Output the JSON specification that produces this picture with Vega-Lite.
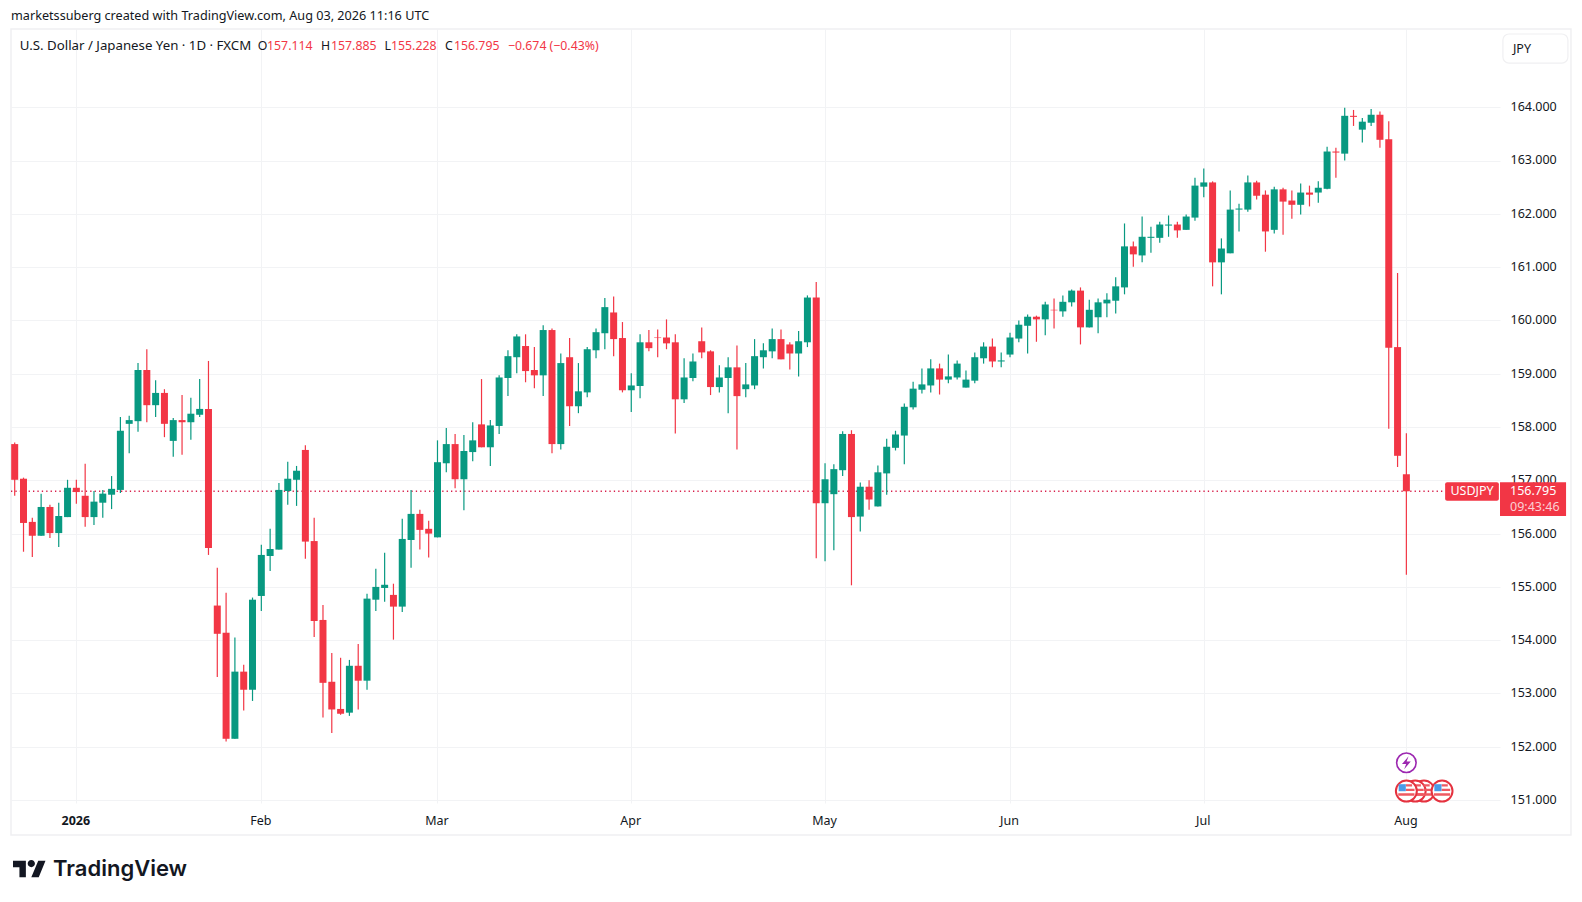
{
"$schema":"https://vega.github.io/schema/vega-lite/v6.json",
"autosize":"none",
"width":1489,"height":774,
"padding":{"left":11,"top":29,"right":82,"bottom":99},
"background":"#ffffff",
"config":{"view":{"stroke":null},"font":"Noto Sans"},
"datasets":{
"ohlc":[
{"i":0,"o":157.68,"h":157.71,"l":156.71,"c":157.01},
{"i":1,"o":157.03,"h":157.05,"l":155.66,"c":156.2},
{"i":2,"o":156.22,"h":156.3,"l":155.56,"c":155.96},
{"i":3,"o":155.96,"h":156.75,"l":155.96,"c":156.5},
{"i":4,"o":156.5,"h":156.54,"l":155.92,"c":156.01},
{"i":5,"o":156.01,"h":156.58,"l":155.75,"c":156.33},
{"i":6,"o":156.31,"h":157.01,"l":156.31,"c":156.86},
{"i":7,"o":156.86,"h":157.01,"l":156.56,"c":156.78},
{"i":8,"o":156.71,"h":157.31,"l":156.13,"c":156.31},
{"i":9,"o":156.31,"h":156.8,"l":156.16,"c":156.6},
{"i":10,"o":156.58,"h":156.82,"l":156.3,"c":156.75},
{"i":11,"o":156.73,"h":157.08,"l":156.46,"c":156.84},
{"i":12,"o":156.82,"h":158.19,"l":156.76,"c":157.93},
{"i":13,"o":158.06,"h":158.21,"l":157.51,"c":158.13},
{"i":14,"o":158.11,"h":159.2,"l":157.91,"c":159.07},
{"i":15,"o":159.07,"h":159.46,"l":158.09,"c":158.41},
{"i":16,"o":158.41,"h":158.88,"l":158.19,"c":158.64},
{"i":17,"o":158.64,"h":158.71,"l":157.81,"c":158.06},
{"i":18,"o":157.74,"h":158.17,"l":157.44,"c":158.13},
{"i":19,"o":158.13,"h":158.6,"l":157.48,"c":158.09},
{"i":20,"o":158.09,"h":158.55,"l":157.76,"c":158.25},
{"i":21,"o":158.23,"h":158.9,"l":158.19,"c":158.34},
{"i":22,"o":158.34,"h":159.24,"l":155.6,"c":155.73},
{"i":23,"o":154.65,"h":155.36,"l":153.31,"c":154.12},
{"i":24,"o":154.14,"h":154.89,"l":152.1,"c":152.15},
{"i":25,"o":152.15,"h":154.05,"l":152.15,"c":153.41},
{"i":26,"o":153.41,"h":153.54,"l":152.68,"c":153.07},
{"i":27,"o":153.07,"h":154.8,"l":152.86,"c":154.76},
{"i":28,"o":154.83,"h":155.79,"l":154.55,"c":155.6},
{"i":29,"o":155.58,"h":156.09,"l":155.3,"c":155.71},
{"i":30,"o":155.7,"h":156.95,"l":155.7,"c":156.82},
{"i":31,"o":156.8,"h":157.35,"l":156.54,"c":157.03},
{"i":32,"o":157.01,"h":157.27,"l":156.52,"c":157.18},
{"i":33,"o":157.57,"h":157.66,"l":155.53,"c":155.85},
{"i":34,"o":155.86,"h":156.3,"l":154.06,"c":154.36},
{"i":35,"o":154.38,"h":154.66,"l":152.55,"c":153.2},
{"i":36,"o":153.22,"h":153.76,"l":152.26,"c":152.7},
{"i":37,"o":152.71,"h":153.67,"l":152.6,"c":152.62},
{"i":38,"o":152.64,"h":153.63,"l":152.58,"c":153.52},
{"i":39,"o":153.52,"h":153.93,"l":152.7,"c":153.24},
{"i":40,"o":153.24,"h":154.87,"l":153.07,"c":154.78},
{"i":41,"o":154.76,"h":155.34,"l":154.55,"c":155},
{"i":42,"o":154.98,"h":155.64,"l":154.72,"c":155.04},
{"i":43,"o":154.85,"h":155.06,"l":154.01,"c":154.63},
{"i":44,"o":154.63,"h":156.28,"l":154.53,"c":155.9},
{"i":45,"o":155.88,"h":156.82,"l":155.36,"c":156.37},
{"i":46,"o":156.37,"h":156.45,"l":155.7,"c":156.07},
{"i":47,"o":156.09,"h":156.24,"l":155.55,"c":156},
{"i":48,"o":155.93,"h":157.75,"l":155.93,"c":157.34},
{"i":49,"o":157.32,"h":157.98,"l":157.15,"c":157.68},
{"i":50,"o":157.68,"h":157.87,"l":156.85,"c":157.02},
{"i":51,"o":157.02,"h":157.85,"l":156.44,"c":157.55},
{"i":52,"o":157.53,"h":158.09,"l":157.36,"c":157.75},
{"i":53,"o":158.05,"h":158.9,"l":157.62,"c":157.62},
{"i":54,"o":157.62,"h":158.13,"l":157.27,"c":158.03},
{"i":55,"o":158.02,"h":158.97,"l":157.87,"c":158.93},
{"i":56,"o":158.92,"h":159.44,"l":158.58,"c":159.33},
{"i":57,"o":159.31,"h":159.74,"l":159.01,"c":159.7},
{"i":58,"o":159.52,"h":159.74,"l":158.84,"c":159.05},
{"i":59,"o":159.07,"h":159.5,"l":158.73,"c":158.97},
{"i":60,"o":158.97,"h":159.91,"l":158.58,"c":159.82},
{"i":61,"o":159.82,"h":159.85,"l":157.51,"c":157.68},
{"i":62,"o":157.68,"h":159.38,"l":157.58,"c":159.2},
{"i":63,"o":159.31,"h":159.67,"l":158.02,"c":158.39},
{"i":64,"o":158.39,"h":159.2,"l":158.26,"c":158.67},
{"i":65,"o":158.65,"h":159.5,"l":158.56,"c":159.46},
{"i":66,"o":159.44,"h":159.85,"l":159.29,"c":159.78},
{"i":67,"o":159.76,"h":160.42,"l":159.46,"c":160.25},
{"i":68,"o":160.15,"h":160.45,"l":159.33,"c":159.65},
{"i":69,"o":159.67,"h":159.97,"l":158.65,"c":158.69},
{"i":70,"o":158.69,"h":159.01,"l":158.28,"c":158.78},
{"i":71,"o":158.77,"h":159.74,"l":158.54,"c":159.59},
{"i":72,"o":159.59,"h":159.82,"l":159.42,"c":159.48},
{"i":73,"o":159.68,"h":159.83,"l":159.31,"c":159.67},
{"i":74,"o":159.68,"h":160.02,"l":159.46,"c":159.57},
{"i":75,"o":159.59,"h":159.74,"l":157.88,"c":158.52},
{"i":76,"o":158.52,"h":159.29,"l":158.45,"c":158.93},
{"i":77,"o":158.92,"h":159.38,"l":158.86,"c":159.23},
{"i":78,"o":159.61,"h":159.87,"l":159.29,"c":159.4},
{"i":79,"o":159.42,"h":159.44,"l":158.6,"c":158.75},
{"i":80,"o":158.75,"h":159.16,"l":158.65,"c":158.93},
{"i":81,"o":158.92,"h":159.31,"l":158.26,"c":159.12},
{"i":82,"o":159.12,"h":159.53,"l":157.58,"c":158.58},
{"i":83,"o":158.71,"h":159.2,"l":158.56,"c":158.8},
{"i":84,"o":158.78,"h":159.65,"l":158.71,"c":159.33},
{"i":85,"o":159.31,"h":159.57,"l":159.1,"c":159.44},
{"i":86,"o":159.42,"h":159.85,"l":159.29,"c":159.65},
{"i":87,"o":159.65,"h":159.83,"l":159.27,"c":159.27},
{"i":88,"o":159.55,"h":159.59,"l":159.08,"c":159.38},
{"i":89,"o":159.38,"h":159.8,"l":158.95,"c":159.61},
{"i":90,"o":159.59,"h":160.47,"l":159.5,"c":160.43},
{"i":91,"o":160.43,"h":160.72,"l":155.54,"c":156.57},
{"i":92,"o":156.57,"h":157.32,"l":155.48,"c":157.02},
{"i":93,"o":156.74,"h":157.3,"l":155.69,"c":157.21},
{"i":94,"o":157.19,"h":157.92,"l":157.08,"c":157.87},
{"i":95,"o":157.87,"h":157.94,"l":155.03,"c":156.31},
{"i":96,"o":156.32,"h":156.96,"l":156.04,"c":156.88},
{"i":97,"o":156.88,"h":157,"l":156.45,"c":156.64},
{"i":98,"o":156.51,"h":157.28,"l":156.51,"c":157.15},
{"i":99,"o":157.13,"h":157.78,"l":156.73,"c":157.63},
{"i":100,"o":157.61,"h":157.93,"l":157.56,"c":157.86},
{"i":101,"o":157.84,"h":158.44,"l":157.3,"c":158.38},
{"i":102,"o":158.37,"h":158.85,"l":158.33,"c":158.72},
{"i":103,"o":158.7,"h":159.1,"l":158.63,"c":158.8},
{"i":104,"o":158.78,"h":159.27,"l":158.65,"c":159.1},
{"i":105,"o":159.1,"h":159.19,"l":158.61,"c":158.89},
{"i":106,"o":158.89,"h":159.36,"l":158.82,"c":158.95},
{"i":107,"o":158.93,"h":159.25,"l":158.89,"c":159.19},
{"i":108,"o":158.74,"h":159.06,"l":158.74,"c":158.89},
{"i":109,"o":158.87,"h":159.4,"l":158.82,"c":159.31},
{"i":110,"o":159.29,"h":159.59,"l":159.19,"c":159.51},
{"i":111,"o":159.51,"h":159.66,"l":159.12,"c":159.23},
{"i":112,"o":159.23,"h":159.4,"l":159.12,"c":159.25},
{"i":113,"o":159.36,"h":159.77,"l":159.31,"c":159.68},
{"i":114,"o":159.66,"h":160,"l":159.59,"c":159.92},
{"i":115,"o":159.9,"h":160.11,"l":159.38,"c":160.07},
{"i":116,"o":160.07,"h":160.09,"l":159.6,"c":160.02},
{"i":117,"o":160.02,"h":160.35,"l":159.72,"c":160.3},
{"i":118,"o":160.2,"h":160.41,"l":159.85,"c":160.19},
{"i":119,"o":160.17,"h":160.47,"l":160.07,"c":160.35},
{"i":120,"o":160.34,"h":160.58,"l":160.26,"c":160.56},
{"i":121,"o":160.56,"h":160.62,"l":159.55,"c":159.87},
{"i":122,"o":159.87,"h":160.39,"l":159.87,"c":160.2},
{"i":123,"o":160.06,"h":160.41,"l":159.76,"c":160.34},
{"i":124,"o":160.32,"h":160.51,"l":160.06,"c":160.39},
{"i":125,"o":160.37,"h":160.81,"l":160.13,"c":160.64},
{"i":126,"o":160.62,"h":161.82,"l":160.49,"c":161.39},
{"i":127,"o":161.39,"h":161.48,"l":161.01,"c":161.24},
{"i":128,"o":161.22,"h":161.95,"l":161.09,"c":161.57},
{"i":129,"o":161.55,"h":161.76,"l":161.27,"c":161.57},
{"i":130,"o":161.55,"h":161.85,"l":161.46,"c":161.8},
{"i":131,"o":161.78,"h":161.97,"l":161.57,"c":161.8},
{"i":132,"o":161.8,"h":161.85,"l":161.55,"c":161.69},
{"i":133,"o":161.7,"h":161.99,"l":161.7,"c":161.95},
{"i":134,"o":161.93,"h":162.68,"l":161.87,"c":162.53},
{"i":135,"o":162.51,"h":162.85,"l":162.31,"c":162.59},
{"i":136,"o":162.59,"h":162.61,"l":160.64,"c":161.09},
{"i":137,"o":161.09,"h":161.54,"l":160.49,"c":161.35},
{"i":138,"o":161.26,"h":162.44,"l":161.26,"c":162.08},
{"i":139,"o":162.08,"h":162.19,"l":161.67,"c":162.1},
{"i":140,"o":162.08,"h":162.72,"l":162.04,"c":162.59},
{"i":141,"o":162.59,"h":162.62,"l":162.27,"c":162.34},
{"i":142,"o":162.36,"h":162.44,"l":161.29,"c":161.67},
{"i":143,"o":161.7,"h":162.51,"l":161.63,"c":162.46},
{"i":144,"o":162.46,"h":162.49,"l":161.61,"c":162.23},
{"i":145,"o":162.25,"h":162.44,"l":161.91,"c":162.17},
{"i":146,"o":162.17,"h":162.57,"l":161.99,"c":162.4},
{"i":147,"o":162.4,"h":162.53,"l":162.14,"c":162.36},
{"i":148,"o":162.4,"h":162.61,"l":162.21,"c":162.49},
{"i":149,"o":162.47,"h":163.26,"l":162.46,"c":163.17},
{"i":150,"o":163.17,"h":163.24,"l":162.68,"c":163.15},
{"i":151,"o":163.13,"h":163.99,"l":163,"c":163.84},
{"i":152,"o":163.84,"h":163.95,"l":163.65,"c":163.82},
{"i":153,"o":163.58,"h":163.8,"l":163.34,"c":163.73},
{"i":154,"o":163.71,"h":163.97,"l":163.65,"c":163.86},
{"i":155,"o":163.86,"h":163.92,"l":163.24,"c":163.39},
{"i":156,"o":163.4,"h":163.74,"l":157.97,"c":159.49},
{"i":157,"o":159.5,"h":160.89,"l":157.25,"c":157.46},
{"i":158,"o":157.114,"h":157.885,"l":155.228,"c":156.795}
],
"flagsBack":[{"i":160},{"i":159}],
"flagsFront":[{"i":162.05},{"i":158}]
},
"layer":[
{"data":{"values":[{}]},"mark":{"type":"rect","fillOpacity":0,"stroke":"#f0f0f2","strokeWidth":1.5},
 "encoding":{"x":{"datum":-0.42,"type":"quantitative","axis":{"title":null}},"x2":{"datum":176.69},"y":{"datum":165.469,"type":"quantitative","axis":{"title":null}},"y2":{"datum":150.345}}},
{"data":{"values":[{}]},"mark":{"type":"rule","color":"#d81e4a","strokeWidth":1.3,"strokeDash":[1.3,3.1]},
 "encoding":{"x":{"datum":-0.42,"type":"quantitative","axis":{"title":null}},"x2":{"datum":162.4},"y":{"datum":156.795,"type":"quantitative","axis":{"title":null}}}},
{"data":{"name":"ohlc"},"mark":{"type":"rule","strokeWidth":1.2},
 "encoding":{
  "x":{"field":"i","type":"quantitative","scale":{"domain":[-0.42,168.63],"nice":false,"zero":false,"padding":0},
   "axis":{"title":null,"values":[7,28,48,70,92,113,135,158],"labelExpr":"{'7':'2026','28':'Feb','48':'Mar','70':'Apr','92':'May','113':'Jun','135':'Jul','158':'Aug'}[datum.value]","domain":false,"ticks":false,"grid":true,"gridColor":"#f2f3f5","gridWidth":1,"labelFontSize":12.5,"labelColor":"#131722","labelPadding":11,"labelOffset":-1,"labelFlush":false,"labelBound":false,"labelAngle":0,"labelFontWeight":{"condition":{"test":"datum.value === 7","value":"bold"},"value":"normal"}}},
  "y":{"field":"l","type":"quantitative","scale":{"domain":[150.945,165.469],"nice":false,"zero":false},
   "axis":{"orient":"right","title":null,"values":[151,152,153,154,155,156,157,158,159,160,161,162,163,164],"format":".3f","domain":false,"ticks":false,"grid":true,"gridColor":"#f2f3f5","gridWidth":1,"labelFontSize":12.5,"labelColor":"#131722","labelPadding":10,"labelOffset":-0.6,"labelFlush":false,"labelBound":false}},
  "y2":{"field":"h"},
  "color":{"condition":{"test":"datum.c >= datum.o","value":"#089981"},"value":"#f23645"}}},
{"data":{"name":"ohlc"},"mark":{"type":"bar","size":7,"orient":"vertical","minBandSize":1.2},
 "encoding":{"x":{"field":"i","type":"quantitative","axis":{"title":null}},"y":{"field":"o","type":"quantitative","axis":{"title":null}},"y2":{"field":"c"},
  "color":{"condition":{"test":"datum.c >= datum.o","value":"#089981"},"value":"#f23645"}}},
{"data":{"values":[{}]},"mark":{"type":"rect","fill":"#f23645","cornerRadius":2},
 "encoding":{"x":{"datum":162.4,"type":"quantitative","axis":{"title":null}},"x2":{"datum":168.5},"y":{"datum":156.963,"type":"quantitative","axis":{"title":null}},"y2":{"datum":156.618}}},
{"data":{"values":[{}]},"mark":{"type":"rect","fill":"#f23645"},
 "encoding":{"x":{"datum":168.63,"type":"quantitative","axis":{"title":null}},"x2":{"datum":176.13},"y":{"datum":156.963,"type":"quantitative","axis":{"title":null}},"y2":{"datum":156.33}}},
{"data":{"values":[{}]},"mark":{"type":"text","text":"USDJPY","align":"center","baseline":"middle","color":"#ffffff","fontSize":12.5},
 "encoding":{"x":{"datum":165.45,"type":"quantitative","axis":{"title":null}},"y":{"datum":156.795,"type":"quantitative","axis":{"title":null}}}},
{"data":{"values":[{}]},"mark":{"type":"text","text":"156.795","align":"left","baseline":"middle","color":"#ffffff","fontSize":12.5},
 "encoding":{"x":{"datum":169.77,"type":"quantitative","axis":{"title":null}},"y":{"datum":156.8,"type":"quantitative","axis":{"title":null}}}},
{"data":{"values":[{}]},"mark":{"type":"text","text":"09:43:46","align":"left","baseline":"middle","color":"#fbd0d4","fontSize":12.5},
 "encoding":{"x":{"datum":169.77,"type":"quantitative","axis":{"title":null}},"y":{"datum":156.5,"type":"quantitative","axis":{"title":null}}}},
{"data":{"values":[{}]},"mark":{"type":"rect","fill":"#ffffff","stroke":"#f0f0f2","strokeWidth":1.2,"cornerRadius":6},
 "encoding":{"x":{"datum":168.96,"type":"quantitative","axis":{"title":null}},"x2":{"datum":176.34},"y":{"datum":165.375,"type":"quantitative","axis":{"title":null}},"y2":{"datum":164.83}}},
{"data":{"values":[{}]},"mark":{"type":"text","text":"JPY","align":"left","baseline":"middle","color":"#131722","fontSize":12.5},
 "encoding":{"x":{"datum":170.1,"type":"quantitative","axis":{"title":null}},"y":{"datum":165.1,"type":"quantitative","axis":{"title":null}}}},
{"data":{"values":[{}]},"mark":{"type":"text","text":"marketssuberg created with TradingView.com, Aug 03, 2026 11:16 UTC","align":"left","baseline":"middle","color":"#131722","fontSize":12.65},
 "encoding":{"x":{"datum":-0.42,"type":"quantitative","axis":{"title":null}},"y":{"datum":165.711,"type":"quantitative","axis":{"title":null}}}},
{"data":{"values":[{}]},"mark":{"type":"text","text":"U.S. Dollar / Japanese Yen · 1D · FXCM","align":"left","baseline":"middle","color":"#131722","fontSize":13.25},
 "encoding":{"x":{"datum":0.58,"type":"quantitative","axis":{"title":null}},"y":{"datum":165.143,"type":"quantitative","axis":{"title":null}}}},
{"data":{"values":[{}]},"mark":{"type":"text","text":"O","align":"left","baseline":"middle","color":"#131722","fontSize":12.3},
 "encoding":{"x":{"datum":27.59,"type":"quantitative","axis":{"title":null}},"y":{"datum":165.143,"type":"quantitative","axis":{"title":null}}}},
{"data":{"values":[{}]},"mark":{"type":"text","text":"157.114","align":"left","baseline":"middle","color":"#f23645","fontSize":12.3},
 "encoding":{"x":{"datum":28.65,"type":"quantitative","axis":{"title":null}},"y":{"datum":165.143,"type":"quantitative","axis":{"title":null}}}},
{"data":{"values":[{}]},"mark":{"type":"text","text":"H","align":"left","baseline":"middle","color":"#131722","fontSize":12.3},
 "encoding":{"x":{"datum":34.78,"type":"quantitative","axis":{"title":null}},"y":{"datum":165.143,"type":"quantitative","axis":{"title":null}}}},
{"data":{"values":[{}]},"mark":{"type":"text","text":"157.885","align":"left","baseline":"middle","color":"#f23645","fontSize":12.3},
 "encoding":{"x":{"datum":35.91,"type":"quantitative","axis":{"title":null}},"y":{"datum":165.143,"type":"quantitative","axis":{"title":null}}}},
{"data":{"values":[{}]},"mark":{"type":"text","text":"L","align":"left","baseline":"middle","color":"#131722","fontSize":12.3},
 "encoding":{"x":{"datum":41.99,"type":"quantitative","axis":{"title":null}},"y":{"datum":165.143,"type":"quantitative","axis":{"title":null}}}},
{"data":{"values":[{}]},"mark":{"type":"text","text":"155.228","align":"left","baseline":"middle","color":"#f23645","fontSize":12.3},
 "encoding":{"x":{"datum":42.72,"type":"quantitative","axis":{"title":null}},"y":{"datum":165.143,"type":"quantitative","axis":{"title":null}}}},
{"data":{"values":[{}]},"mark":{"type":"text","text":"C","align":"left","baseline":"middle","color":"#131722","fontSize":12.3},
 "encoding":{"x":{"datum":48.85,"type":"quantitative","axis":{"title":null}},"y":{"datum":165.143,"type":"quantitative","axis":{"title":null}}}},
{"data":{"values":[{}]},"mark":{"type":"text","text":"156.795","align":"left","baseline":"middle","color":"#f23645","fontSize":12.3},
 "encoding":{"x":{"datum":49.87,"type":"quantitative","axis":{"title":null}},"y":{"datum":165.143,"type":"quantitative","axis":{"title":null}}}},
{"data":{"values":[{}]},"mark":{"type":"text","text":"−0.674 (−0.43%)","align":"left","baseline":"middle","color":"#f23645","fontSize":12.3},
 "encoding":{"x":{"datum":56,"type":"quantitative","axis":{"title":null}},"y":{"datum":165.143,"type":"quantitative","axis":{"title":null}}}},
{"data":{"values":[{}]},"mark":{"type":"point","shape":"circle","size":380,"filled":true,"fill":"#ffffff","stroke":"#9c27b0","strokeWidth":1.6,"opacity":1},
 "encoding":{"x":{"datum":158,"type":"quantitative","axis":{"title":null}},"y":{"datum":151.7,"type":"quantitative","axis":{"title":null}}}},
{"data":{"values":[{}]},"mark":{"type":"point","shape":"M.2-.6L-.4.12H-.02L-.2.6L.4-.12H.02Z","size":484,"filled":true,"color":"#9c27b0","opacity":1},
 "encoding":{"x":{"datum":158,"type":"quantitative","axis":{"title":null}},"y":{"datum":151.7,"type":"quantitative","axis":{"title":null}}}},
{"data":{"name":"flagsBack"},"mark":{"type":"point","shape":"circle","size":440,"filled":true,"fill":"#ffffff","stroke":"#e5323f","strokeWidth":2,"opacity":1},
 "encoding":{"x":{"field":"i","type":"quantitative","axis":{"title":null}},"y":{"datum":151.17,"type":"quantitative","axis":{"title":null}}}},
{"data":{"name":"flagsBack"},"mark":{"type":"point","shape":"M-.05-.62H.52V-.42H-.05ZM-.05-.2H.74V0H-.05ZM-.74.2H.74V.42H-.74Z","size":484,"filled":true,"color":"#ee5a62","opacity":1},
 "encoding":{"x":{"field":"i","type":"quantitative","axis":{"title":null}},"y":{"datum":151.17,"type":"quantitative","axis":{"title":null}}}},
{"data":{"name":"flagsFront"},"mark":{"type":"point","shape":"circle","size":440,"filled":true,"fill":"#ffffff","stroke":"#e5323f","strokeWidth":2,"opacity":1},
 "encoding":{"x":{"field":"i","type":"quantitative","axis":{"title":null}},"y":{"datum":151.17,"type":"quantitative","axis":{"title":null}}}},
{"data":{"name":"flagsFront"},"mark":{"type":"point","shape":"M-.05-.62H.52V-.42H-.05ZM-.05-.2H.74V0H-.05ZM-.74.2H.74V.42H-.74Z","size":484,"filled":true,"color":"#ee5a62","opacity":1},
 "encoding":{"x":{"field":"i","type":"quantitative","axis":{"title":null}},"y":{"datum":151.17,"type":"quantitative","axis":{"title":null}}}},
{"data":{"name":"flagsFront"},"mark":{"type":"point","shape":"M-.7-.62H-.05V.02H-.7Z","size":484,"filled":true,"color":"#4a9be8","opacity":1},
 "encoding":{"x":{"field":"i","type":"quantitative","axis":{"title":null}},"y":{"datum":151.17,"type":"quantitative","axis":{"title":null}}}},
{"data":{"values":[{}]},"mark":{"type":"point","shape":"M-.22.5H-.61V-.11H-1V-.5H-.22ZM.56.5H.11L.53-.5H.97ZM-.11-.33A.22.22 0 1 0 .33-.33A.22.22 0 1 0-.11-.33Z","size":1089,"filled":true,"color":"#131722","opacity":1},
 "encoding":{"x":{"datum":1.68,"type":"quantitative","axis":{"title":null}},"y":{"datum":149.707,"type":"quantitative","axis":{"title":null}}}},
{"data":{"values":[{}]},"mark":{"type":"text","text":"TradingView","align":"left","baseline":"middle","color":"#131722","fontSize":22,"font":"Inter","fontWeight":600},
 "encoding":{"x":{"datum":4.35,"type":"quantitative","axis":{"title":null}},"y":{"datum":149.707,"type":"quantitative","axis":{"title":null}}}}
]
}
